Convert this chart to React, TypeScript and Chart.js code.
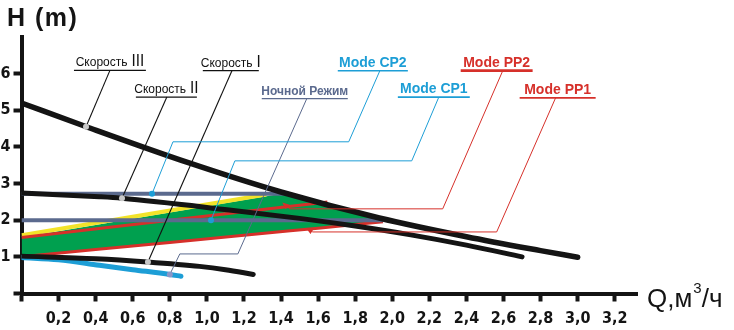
import { useEffect, useRef } from 'react';
import { Chart, registerables } from 'chart.js';

Chart.register(...registerables);

const FONT = '"Liberation Sans", Arial, sans-serif';
const NARROW = '"Liberation Sans Narrow", "Arial Narrow", "DejaVu Sans Condensed", sans-serif';

// ---- axis ticks ----
const xTicks = [0, 0.2, 0.4, 0.6, 0.8, 1.0, 1.2, 1.4, 1.6, 1.8, 2.0, 2.2, 2.4, 2.6, 2.8, 3.0, 3.2];
const xTickLabels = ['', '0,2', '0,4', '0,6', '0,8', '1,0', '1,2', '1,4', '1,6', '1,8', '2,0', '2,2', '2,4', '2,6', '2,8', '3,0', '3,2'];
const yTicks = [0, 1, 2, 3, 4, 5, 6];
const yTickLabels = ['', '1', '2', '3', '4', '5', '6'];

// ---- pump curves (Q m3/h, H m) ----
const speed3Q = [0, 0.35, 0.9, 1.4, 1.93, 2.4, 2.8, 3.0];
const speed3H = [5.2, 4.55, 3.57, 2.77, 2.06, 1.55, 1.17, 0.99];

const speed2Q = [0, 0.42, 0.54, 1.12, 1.5, 1.8, 2.1, 2.4, 2.7];
const speed2H = [2.74, 2.64, 2.6, 2.28, 2.05, 1.84, 1.6, 1.32, 1.0];

const speed1Q = [0, 0.4, 0.68, 0.96, 1.1, 1.25];
const speed1H = [1.02, 0.95, 0.86, 0.74, 0.65, 0.52];

const nightQ = [0, 0.2, 0.42, 0.6, 0.8, 0.86];
const nightH = [0.98, 0.92, 0.77, 0.65, 0.52, 0.47];

const cp2Q = [0, 1.44];
const cp2H = [2.72, 2.72];

const cp1Q = [0, 1.95];
const cp1H = [2.0, 2.0];

const pp2Q = [0, 1.65];
const pp2H = [1.53, 2.5];

const yellowQ = [0, 1.32];
const yellowH = [1.59, 2.7];

const bandQ = [0, 0.4, 0.8, 1.2, 1.45, 1.6, 1.8, 1.95];
const bandTopH = [1.53, 1.87, 2.21, 2.55, 2.76, 2.52, 2.25, 2.03];
const pp1H = [1.0, 1.2, 1.39, 1.59, 1.71, 1.78, 1.88, 1.96];

// ---- callouts (data coordinates) ----
type Callout = {
  text: string;
  numeral?: string;
  color: string;
  bold: boolean;
  size: number;
  ul: [number, number, number]; // q1, q2, h
  ulWidth: number;
  path: [number, number][];
  end: 'dot' | 'arrow';
  dot?: string;
};

const callouts: Callout[] = [
  { text: 'Скорость', numeral: 'III', color: '#111', bold: false, size: 12, ul: [0.283, 0.671, 6.09], ulWidth: 1.3,
    path: [[0.477, 6.09], [0.348, 4.55]], end: 'dot', dot: '#c8c8c8' },
  { text: 'Скорость', numeral: 'II', color: '#111', bold: false, size: 12, ul: [0.617, 0.946, 5.36], ulWidth: 1.3,
    path: [[0.784, 5.36], [0.542, 2.6]], end: 'dot', dot: '#c8c8c8' },
  { text: 'Скорость', numeral: 'I', color: '#111', bold: false, size: 12, ul: [0.978, 1.28, 6.08], ulWidth: 1.3,
    path: [[1.135, 6.08], [0.682, 0.86]], end: 'dot', dot: '#c8c8c8' },
  { text: 'Ночной Режим', color: '#5b6a8e', bold: true, size: 12, ul: [1.296, 1.76, 5.32], ulWidth: 1.3,
    path: [[1.539, 5.32], [1.167, 1.08], [0.854, 1.08], [0.8, 0.52]], end: 'dot', dot: '#8b96c8' },
  { text: 'Mode CP2', color: '#1d9ed6', bold: true, size: 14, ul: [1.706, 2.084, 6.08], ulWidth: 1.6,
    path: [[1.933, 6.08], [1.765, 4.14], [0.817, 4.14], [0.704, 2.72]], end: 'dot', dot: '#1d9ed6' },
  { text: 'Mode CP1', color: '#1d9ed6', bold: true, size: 14, ul: [2.03, 2.418, 5.36], ulWidth: 1.6,
    path: [[2.251, 5.36], [2.105, 3.62], [1.151, 3.62], [1.022, 2.0]], end: 'dot', dot: '#1d9ed6' },
  { text: 'Mode PP2', color: '#d6302a', bold: true, size: 14, ul: [2.369, 2.757, 6.08], ulWidth: 2.8,
    path: [[2.596, 6.08], [2.272, 2.31], [1.447, 2.31], [1.415, 2.45]], end: 'arrow' },
  { text: 'Mode PP1', color: '#d6302a', bold: true, size: 14, ul: [2.687, 3.097, 5.34], ulWidth: 1.6,
    path: [[2.881, 5.34], [2.563, 1.68], [1.571, 1.68], [1.544, 1.76]], end: 'arrow' },
];

const pts = (qs: number[], hs: number[]) => qs.map((q, i) => ({ x: q, y: hs[i] }));

const BLACK = '#141414';
const SLATE = '#5b6a8e';
const RED = '#d6302a';
const GREEN = '#00a04f';
const YELLOW = '#f2e32a';
const CYAN = '#1d9ed6';

const overlayPlugin = {
  id: 'overlay',
  afterDatasetsDraw(chart: any) {
    const { ctx, scales } = chart;
    const xs = scales.x;
    const ys = scales.y;
    const px = (q: number) => xs.getPixelForValue(q);
    const py = (h: number) => ys.getPixelForValue(h);
    ctx.save();

    callouts.forEach((c) => {
      // leader
      ctx.strokeStyle = c.color;
      ctx.lineWidth = c.color === '#111' ? 1.1 : 1;
      ctx.lineJoin = 'miter';
      ctx.beginPath();
      c.path.forEach(([q, h], i) => {
        if (i === 0) ctx.moveTo(px(q), py(h));
        else ctx.lineTo(px(q), py(h));
      });
      ctx.stroke();

      // end marker
      const n = c.path.length;
      const [eq, eh] = c.path[n - 1];
      const [pq, ph] = c.path[n - 2];
      const ex = px(eq), ey = py(eh);
      if (c.end === 'dot') {
        ctx.fillStyle = c.dot || c.color;
        ctx.beginPath();
        ctx.arc(ex, ey, 3, 0, Math.PI * 2);
        ctx.fill();
      } else {
        const dx = ex - px(pq), dy = ey - py(ph);
        const len = Math.hypot(dx, dy) || 1;
        const ux = dx / len, uy = dy / len;
        ctx.fillStyle = c.color;
        ctx.beginPath();
        ctx.moveTo(ex + ux * 2, ey + uy * 2);
        ctx.lineTo(ex - ux * 5 - uy * 3, ey - uy * 5 + ux * 3);
        ctx.lineTo(ex - ux * 5 + uy * 3, ey - uy * 5 - ux * 3);
        ctx.closePath();
        ctx.fill();
      }

      // underline
      const [q1, q2, uh] = c.ul;
      const x1 = px(q1), x2 = px(q2), uy = py(uh);
      ctx.strokeStyle = c.color;
      ctx.lineWidth = c.ulWidth;
      ctx.beginPath();
      ctx.moveTo(x1, uy);
      ctx.lineTo(x2, uy);
      ctx.stroke();

      // text
      ctx.fillStyle = c.color;
      ctx.textBaseline = 'alphabetic';
      ctx.textAlign = 'left';
      const mainFont = `${c.bold ? 'bold ' : ''}${c.size}px ${FONT}`;
      ctx.font = mainFont;
      const w1 = ctx.measureText(c.text).width;
      let w2 = 0;
      const numFont = `16px ${NARROW}`;
      if (c.numeral) {
        ctx.font = numFont;
        w2 = ctx.measureText(c.numeral).width + 4;
      }
      const total = w1 + w2;
      const sx = (x1 + x2) / 2 - total / 2;
      ctx.font = mainFont;
      ctx.fillText(c.text, sx, uy - 4);
      if (c.numeral) {
        ctx.font = numFont;
        ctx.fillText(c.numeral, sx + w1 + 4, uy - 4);
      }
    });

    // axis titles
    ctx.fillStyle = BLACK;
    ctx.textAlign = 'left';
    ctx.textBaseline = 'alphabetic';
    ctx.font = `bold 25px ${FONT}`;
    (ctx as any).letterSpacing = '1.5px';
    ctx.fillText('H (m)', 7, 26);
    (ctx as any).letterSpacing = '0px';

    const qx = xs.right + 10;
    const qy = ys.bottom + 13;
    ctx.font = `26px ${FONT}`;
    ctx.fillText('Q,м', qx, qy);
    const wq = ctx.measureText('Q,м').width;
    ctx.font = `15px ${FONT}`;
    ctx.fillText('3', qx + wq + 1, qy - 14);
    const w3 = ctx.measureText('3').width;
    ctx.font = `26px ${FONT}`;
    ctx.fillText('/ч', qx + wq + w3 + 1, qy);

    ctx.restore();
  },
};

export default function App() {
  const ref = useRef<HTMLCanvasElement | null>(null);

  useEffect(() => {
    if (!ref.current) return;
    const dotPts = callouts.filter((c) => c.end === 'dot').map((c) => {
      const p = c.path[c.path.length - 1];
      return { x: p[0], y: p[1] };
    });
    const curve = {
      pointRadius: 0,
      borderCapStyle: 'round' as const,
      borderJoinStyle: 'round' as const,
      fill: false,
    };
    const chart = new Chart(ref.current, {
      type: 'line',
      data: {
        datasets: [
          { ...curve, label: 'Скорость III', data: pts(speed3Q, speed3H), borderColor: BLACK, borderWidth: 5.5, cubicInterpolationMode: 'monotone', order: 1 },
          { ...curve, label: 'Скорость II', data: pts(speed2Q, speed2H), borderColor: BLACK, borderWidth: 5, cubicInterpolationMode: 'monotone', order: 1 },
          { ...curve, label: 'Скорость I', data: pts(speed1Q, speed1H), borderColor: BLACK, borderWidth: 5, cubicInterpolationMode: 'monotone', order: 1 },
          { ...curve, label: 'Ночной Режим', data: pts(nightQ, nightH), borderColor: CYAN, borderWidth: 5, cubicInterpolationMode: 'monotone', order: 1 },
          { ...curve, label: 'Mode CP2', data: pts(cp2Q, cp2H), borderColor: SLATE, borderWidth: 4, borderCapStyle: 'butt', order: 2 },
          { ...curve, label: 'Mode CP1', data: pts(cp1Q, cp1H), borderColor: SLATE, borderWidth: 4, borderCapStyle: 'butt', order: 2 },
          { ...curve, label: 'Mode PP2', data: pts(pp2Q, pp2H), borderColor: RED, borderWidth: 3, borderCapStyle: 'butt', order: 3 },
          { ...curve, label: 'yellow', data: pts(yellowQ, yellowH), borderColor: YELLOW, borderWidth: 4, borderCapStyle: 'butt', order: 4 },
          { ...curve, label: 'band', data: pts(bandQ, bandTopH), borderColor: GREEN, borderWidth: 0, backgroundColor: GREEN, fill: '+1', order: 5 },
          { ...curve, label: 'Mode PP1', data: pts(bandQ, pp1H), borderColor: RED, borderWidth: 3, borderCapStyle: 'butt', order: 3 },
          { label: 'dots', data: dotPts, showLine: false, pointRadius: 0, order: 0 },
        ],
      },
      options: {
        animation: false,
        responsive: false,
        events: [],
        layout: { padding: { left: 0, top: 37, right: 97, bottom: 0 } },
        plugins: { legend: { display: false }, tooltip: { enabled: false }, title: { display: false } },
        scales: {
          x: {
            type: 'linear',
            min: 0,
            max: 3.32,
            afterBuildTicks: (s: any) => { s.ticks = xTicks.map((v) => ({ value: v })); },
            afterFit: (s: any) => { s.height = 36.5; },
            ticks: {
              callback: (_v: any, i: number) => xTickLabels[i] ?? '',
              autoSkip: false,
              maxRotation: 0,
              padding: 8,
              color: BLACK,
              font: { family: NARROW, size: 16, weight: 'bold' },
            },
            grid: { display: true, drawOnChartArea: false, drawTicks: true, tickLength: 8, tickWidth: 4, tickColor: BLACK },
            border: { display: true, color: BLACK, width: 4 },
          },
          y: {
            type: 'linear',
            min: 0,
            max: 7,
            afterBuildTicks: (s: any) => { s.ticks = yTicks.map((v) => ({ value: v })); },
            afterFit: (s: any) => { s.width = 21.5; },
            ticks: {
              callback: (_v: any, i: number) => yTickLabels[i] ?? '',
              autoSkip: false,
              padding: 3,
              color: BLACK,
              font: { family: NARROW, size: 16, weight: 'bold' },
            },
            grid: { display: true, drawOnChartArea: false, drawTicks: true, tickLength: 8, tickWidth: 4, tickColor: BLACK },
            border: { display: true, color: BLACK, width: 4 },
          },
        },
      } as any,
      plugins: [overlayPlugin],
    });
    return () => chart.destroy();
  }, []);

  return (
    <div style={{ position: 'fixed', left: 0, top: 0, width: 734, height: 330, background: '#fff' }}>
      <canvas ref={ref} width={734} height={330} style={{ display: 'block' }} />
    </div>
  );
}
